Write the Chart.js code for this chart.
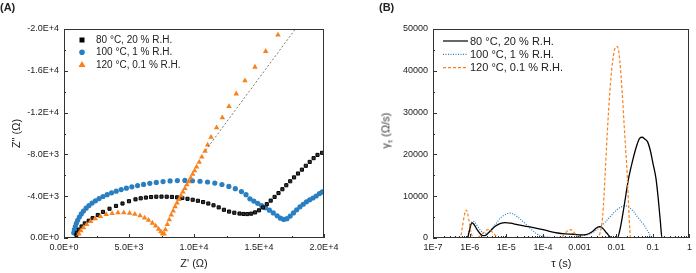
<!DOCTYPE html>
<html>
<head>
<meta charset="utf-8">
<script src="https://cdn.jsdelivr.net/npm/chart.js@4.4.1/dist/chart.umd.min.js"></script>
<style>
  body { margin: 0; background: #fff; font-family: "Liberation Sans", Arial, sans-serif; }
  #wrap { position: relative; width: 696px; height: 273px; }
  .panel { position: absolute; top: 0; width: 348px; height: 273px; }
  .tag { position: absolute; top: 1px; font-weight: bold; font-size: 11px; color: #222; }
  #gtitle { position: absolute; left: 347px; top: 123px; width: 80px; text-align: center;
            font-size: 11px; font-weight: normal; color: #333; transform: rotate(-90deg); white-space: nowrap; }
  #gtitle sub { font-size: 8px; }
</style>
</head>
<body>
<div id="wrap">
  <div class="panel" style="left:0"><canvas id="nyquist" width="348" height="273"></canvas></div>
  <div class="panel" style="left:348px"><canvas id="drt" width="348" height="273"></canvas></div>
  <div class="tag" style="left:0">(A)</div>
  <div class="tag" style="left:379px">(B)</div>
  <div id="gtitle">γ<sub>τ</sub> (Ω/s)</div>
</div>
<script>
// ---- (A) Nyquist data, Z' and -Z'' in ohm ----
const RE_80 = [950, 1000, 1150, 1350, 1600, 1900, 2200, 2600, 3000, 3500, 4000, 4500, 5000, 5500, 5900, 6300, 6700, 7100, 7500, 7900, 8300, 8700, 9100, 9500, 9900, 10300, 10700, 11100, 11500, 11900, 12300, 12700, 13100, 13500, 13800, 14100, 14400, 14700, 15000, 15300, 15600, 15900, 16200, 16500, 16800, 17100, 17400, 17700, 18000, 18300, 18600, 18900, 19200, 19500, 19850];
const IM_80 = [300, 500, 800, 1100, 1400, 1650, 1900, 2200, 2500, 2800, 3070, 3300, 3520, 3700, 3800, 3870, 3920, 3950, 3960, 3950, 3930, 3890, 3830, 3750, 3660, 3560, 3440, 3300, 3130, 2930, 2700, 2530, 2420, 2340, 2300, 2290, 2330, 2450, 2650, 2920, 3240, 3580, 3930, 4300, 4670, 5050, 5430, 5800, 6170, 6540, 6910, 7280, 7640, 7950, 8150];

const RE_100 = [750, 800, 870, 950, 1050, 1180, 1330, 1500, 1700, 1920, 2160, 2420, 2700, 3000, 3320, 3660, 4020, 4400, 4800, 5220, 5660, 6120, 6600, 7100, 7620, 8160, 8720, 9300, 9880, 10460, 11040, 11600, 12150, 12680, 13180, 13650, 14000, 14300, 14600, 14900, 15200, 15500, 15800, 16100, 16400, 16650, 16900, 17150, 17400, 17650, 17900, 18150, 18400, 18650, 18900, 19150, 19400, 19650, 19850, 19950];
const IM_100 = [500, 800, 1100, 1400, 1700, 2000, 2300, 2580, 2850, 3100, 3340, 3560, 3770, 3970, 4150, 4320, 4480, 4630, 4770, 4900, 5020, 5130, 5230, 5320, 5400, 5460, 5500, 5510, 5480, 5430, 5360, 5260, 5120, 4940, 4720, 4440, 4150, 3750, 3530, 3320, 3110, 2900, 2660, 2400, 2130, 1900, 1780, 1850, 2100, 2400, 2700, 2980, 3230, 3460, 3650, 3830, 4020, 4250, 4400, 4420];

const RE_120 = [1150, 1300, 1500, 1750, 2050, 2400, 2800, 3250, 3700, 4150, 4600, 5050, 5450, 5850, 6200, 6500, 6800, 7050, 7280, 7450, 7580, 7700, 7800, 7950, 8100, 8250, 8400, 8550, 8700, 8850, 9000, 9150, 9300, 9450, 9600, 9750, 9900, 10050, 10200, 10400, 10600, 10850, 11050, 11310, 11740, 12180, 12690, 13250, 13920, 14690, 15515, 16460];
const IM_120 = [400, 700, 1000, 1300, 1580, 1850, 2070, 2250, 2360, 2420, 2430, 2380, 2280, 2130, 1930, 1700, 1430, 1150, 850, 600, 420, 400, 800, 1300, 1750, 2200, 2600, 3000, 3350, 3700, 4050, 4400, 4750, 5100, 5400, 5750, 6100, 6450, 6800, 7250, 7750, 8300, 8900, 9640, 10550, 11510, 12600, 13800, 15050, 16360, 17865, 19430];

const FIT_RE = [10900, 17800];
const FIT_IM = [8400, 20000];

const RE_TICKS = [0, 5000, 10000, 15000, 20000];
const RE_TICK_LABELS = ['0.0E+0', '5.0E+3', '1.0E+4', '1.5E+4', '2.0E+4'];
const RE_MINOR = [2500, 7500, 12500, 17500];
const IM_TICKS = [0, 4000, 8000, 12000, 16000, 20000];
const IM_TICK_LABELS = ['0.0E+0', '-4.0E+3', '-8.0E+3', '-1.2E+4', '-1.6E+4', '-2.0E+4'];
const IM_MINOR = [2000, 6000, 10000, 14000, 18000];

// ---- (B) DRT data, tau in s, gamma in ohm/s ----
const TAU_80 = [1e-7, 8.0e-7, 9.0e-7, 1.0e-6, 1.15e-6, 1.3e-6, 1.6e-6, 2.0e-6, 2.3e-6, 2.8e-6, 3.5e-6, 5e-6, 7e-6, 9.5e-6, 1.3e-5, 2e-5, 3e-5, 4e-5, 6e-5, 1e-4, 1.5e-4, 2.5e-4, 4e-4, 7e-4, 1.1e-3, 1.5e-3, 2.2e-3, 3.0e-3, 3.5e-3, 4.2e-3, 5.5e-3, 7e-3, 8e-3, 1.07e-2, 1.3e-2, 1.6e-2, 2.15e-2, 2.8e-2, 3.6e-2, 4.4e-2, 5.1e-2, 6.0e-2, 7.2e-2, 8.5e-2, 0.1, 0.1216, 0.14, 0.16, 0.178, 1];
const G_80 = [0, 0, 300, 2000, 3600, 3300, 2000, 900, 550, 700, 1500, 2800, 3500, 3700, 3550, 3200, 2900, 2700, 2400, 2000, 1600, 1200, 1000, 900, 750, 800, 1500, 2500, 2700, 2400, 1200, 200, 0, 0, 2500, 7000, 14000, 18500, 22000, 23900, 24100, 23700, 23000, 21000, 18000, 14280, 9500, 4000, 0, 0];

const TAU_100 = [1e-7, 8.5e-7, 9.5e-7, 1.1e-6, 1.25e-6, 1.45e-6, 1.8e-6, 2.3e-6, 2.8e-6, 3.5e-6, 5e-6, 7e-6, 1.0e-5, 1.2e-5, 1.5e-5, 2e-5, 3e-5, 4.5e-5, 6.5e-5, 9e-5, 1.3e-4, 2e-4, 4e-4, 7e-4, 1.1e-3, 1.6e-3, 2.5e-3, 3.5e-3, 5e-3, 7e-3, 1e-2, 1.4e-2, 1.7e-2, 2.1e-2, 2.8e-2, 4e-2, 5.5e-2, 7e-2, 8.5e-2, 9.5e-2, 1];
const G_100 = [0, 0, 1500, 3500, 4000, 3500, 2300, 1300, 1100, 1600, 3200, 4800, 5700, 5950, 5800, 5100, 3800, 2300, 1100, 500, 250, 150, 150, 250, 500, 800, 1500, 2500, 3800, 5200, 6600, 7500, 7700, 7500, 6600, 4800, 3300, 1900, 600, 0, 0];

const TAU_120 = [1e-7, 5.5e-7, 6.3e-7, 7.2e-7, 8.1e-7, 9e-7, 1.05e-6, 1.2e-6, 1.4e-6, 1.8e-6, 2.4e-6, 3.2e-6, 4.2e-6, 5.5e-6, 6.5e-6, 3.0e-4, 3.8e-4, 4.8e-4, 5.5e-4, 6.5e-4, 8e-4, 9.5e-4, 3.0e-3, 3.5e-3, 3.9e-3, 4.3e-3, 4.9e-3, 5.7e-3, 6.7e-3, 7.8e-3, 9.2e-3, 1.08e-2, 1.25e-2, 1.45e-2, 1.7e-2, 2.0e-2, 2.2e-2, 2.35e-2, 2.45e-2, 1];
const G_120 = [0, 0, 2500, 5500, 6700, 5500, 2000, 300, 0, 300, 1300, 2000, 1400, 300, 0, 0, 800, 1800, 2000, 1700, 700, 0, 0, 800, 2500, 5500, 14000, 25000, 35000, 41500, 45300, 45800, 42500, 35000, 25000, 15000, 7000, 2000, 0, 0];

const TAU_TICKS = [1e-7, 1e-6, 1e-5, 1e-4, 1e-3, 1e-2, 1e-1, 1];
const TAU_TICK_LABELS = ['1E-7', '1E-6', '1E-5', '1E-4', '0.001', '0.01', '0.1', '1'];
const G_TICKS = [0, 10000, 20000, 30000, 40000, 50000];
const G_MINOR = [5000, 15000, 25000, 35000, 45000];

const BLACK = '#000000';
const BLUE = '#2a7fc1';
const ORANGE = '#f7821e';
const TEXT = '#222';

function pts(xs, ys) { return xs.map((x, i) => ({ x, y: ys[i] })); }

// frame around chart area + inward ticks on bottom/left
const frameTicks = {
  id: 'frameTicks',
  afterDraw(chart, args, opts) {
    const { ctx, chartArea: a } = chart;
    const xs = chart.scales.x, ys = chart.scales.y;
    ctx.save();
    ctx.strokeStyle = '#333';
    ctx.lineWidth = 1;
    ctx.strokeRect(Math.round(a.left) + 0.5, Math.round(a.top) + 0.5,
                   Math.round(a.width) - 1, Math.round(a.height) - 1);
    ctx.beginPath();
    const xt = (v, len) => {
      const px = Math.round(xs.getPixelForValue(v)) + 0.5;
      ctx.moveTo(px, a.bottom); ctx.lineTo(px, a.bottom - len);
    };
    const yt = (v, len) => {
      const py = Math.round(ys.getPixelForValue(v)) + 0.5;
      ctx.moveTo(a.left, py); ctx.lineTo(a.left + len, py);
    };
    xs.ticks.forEach(t => xt(t.value, 4));
    ys.ticks.forEach(t => yt(t.value, 4));
    (opts.xMinor || []).forEach(v => xt(v, 2));
    (opts.yMinor || []).forEach(v => yt(v, 2));
    ctx.stroke();
    ctx.restore();
  }
};

const tickFont = { family: '"Liberation Sans", Arial, sans-serif', size: 9 };
const titleFont = { family: '"Liberation Sans", Arial, sans-serif', size: 11 };

// ---------- (A) ----------
new Chart(document.getElementById('nyquist'), {
  type: 'scatter',
  data: {
    datasets: [
      { label: '120 °C, 0.1 % R.H.', data: pts(RE_120, IM_120), pointStyle: 'triangle', pointRadius: 3.2,
        backgroundColor: ORANGE, borderColor: ORANGE, borderWidth: 0, order: 1 },
      { label: 'fit', data: pts(FIT_RE, FIT_IM), showLine: true, pointRadius: 0, borderColor: '#777',
        borderWidth: 1, borderDash: [2, 2], order: 0 },
      { label: '80 °C, 20 % R.H.', data: pts(RE_80, IM_80), pointStyle: 'rect', pointRadius: 2.2,
        backgroundColor: '#333', borderColor: BLACK, borderWidth: 1, order: 2 },
      { label: '100 °C, 1 % R.H.', data: pts(RE_100, IM_100), pointStyle: 'circle', pointRadius: 2.6,
        backgroundColor: BLUE, borderColor: BLUE, borderWidth: 0, order: 3 },
    ]
  },
  options: {
    responsive: false,
    animation: false,
    layout: { padding: { top: 29, right: 24, left: 0, bottom: 0 } },
    plugins: {
      legend: { display: false },
      tooltip: { enabled: false },
      frameTicks: { xMinor: RE_MINOR, yMinor: IM_MINOR }
    },
    scales: {
      x: {
        type: 'linear', min: 0, max: 20000,
        grid: { display: false, drawTicks: false }, border: { display: false },
        afterBuildTicks: s => { s.ticks = RE_TICKS.map(v => ({ value: v })); },
        afterFit: s => { s.height = 35; },
        ticks: { font: tickFont, color: TEXT, padding: 4, maxRotation: 0,
                 callback: v => RE_TICK_LABELS[RE_TICKS.indexOf(v)] },
        title: { display: true, text: "Z' (Ω)", font: titleFont, color: TEXT, padding: { top: 0, bottom: 2 } }
      },
      y: {
        type: 'linear', min: 0, max: 20000,
        grid: { display: false, drawTicks: false }, border: { display: false },
        afterBuildTicks: s => { s.ticks = IM_TICKS.map(v => ({ value: v })); },
        afterFit: s => { s.width = 64; },
        ticks: { font: tickFont, color: TEXT, padding: 5,
                 callback: v => IM_TICK_LABELS[IM_TICKS.indexOf(v)] },
        title: { display: true, text: 'Z" (Ω)', font: titleFont, color: TEXT, padding: { top: 10, bottom: 0 } }
      }
    }
  },
  plugins: [frameTicks, {
    id: 'nyqLegend',
    afterDraw(chart) {
      const ctx = chart.ctx;
      const rows = [
        { text: '80 °C, 20 % R.H.', color: BLACK, shape: 'rect' },
        { text: '100 °C, 1 % R.H.', color: BLUE, shape: 'circle' },
        { text: '120 °C, 0.1 % R.H.', color: ORANGE, shape: 'triangle' },
      ];
      ctx.save();
      ctx.font = '10px "Liberation Sans", Arial, sans-serif';
      ctx.textBaseline = 'middle';
      rows.forEach((r, i) => {
        const x = 82, y = 40 + i * 12.2;
        ctx.fillStyle = r.color;
        ctx.beginPath();
        if (r.shape === 'rect') ctx.rect(x - 2.5, y - 2.5, 5, 5);
        else if (r.shape === 'circle') ctx.arc(x, y, 2.8, 0, Math.PI * 2);
        else { ctx.moveTo(x, y - 3.5); ctx.lineTo(x + 3.5, y + 2.5); ctx.lineTo(x - 3.5, y + 2.5); ctx.closePath(); }
        ctx.fill();
        ctx.fillStyle = TEXT;
        ctx.fillText(r.text, 96, y + 0.5);
      });
      ctx.restore();
    }
  }]
});

// ---------- (B) ----------
new Chart(document.getElementById('drt'), {
  type: 'line',
  data: {
    datasets: [
      { label: '80 °C, 20 % R.H.', data: pts(TAU_80, G_80), borderColor: BLACK, borderWidth: 1.3,
        pointRadius: 0, cubicInterpolationMode: 'monotone', order: 1 },
      { label: '100 °C, 1 % R.H.', data: pts(TAU_100, G_100), borderColor: BLUE, borderWidth: 1.2,
        borderDash: [1, 1.5], pointRadius: 0, cubicInterpolationMode: 'monotone', order: 2 },
      { label: '120 °C, 0.1 % R.H.', data: pts(TAU_120, G_120), borderColor: ORANGE, borderWidth: 1.2,
        borderDash: [3, 2], pointRadius: 0, cubicInterpolationMode: 'monotone', order: 0 },
    ]
  },
  options: {
    responsive: false,
    animation: false,
    layout: { padding: { top: 29, right: 4, left: 0, bottom: 0 } },
    plugins: {
      legend: { display: false },
      tooltip: { enabled: false },
      frameTicks: { yMinor: G_MINOR, xMinor: TAU_TICKS.slice(0, -1).flatMap(d => [2, 3, 4, 5, 6, 7, 8, 9].map(k => d * k)) }
    },
    scales: {
      x: {
        type: 'logarithmic', min: 1e-7, max: 1,
        grid: { display: false, drawTicks: false }, border: { display: false },
        afterBuildTicks: s => { s.ticks = TAU_TICKS.map(v => ({ value: v })); },
        afterFit: s => { s.height = 35; },
        ticks: { font: tickFont, color: TEXT, padding: 4, maxRotation: 0, autoSkip: false,
                 callback: v => TAU_TICK_LABELS[TAU_TICKS.findIndex(t => Math.abs(Math.log10(t) - Math.log10(v)) < 1e-6)] },
        title: { display: true, text: 'τ (s)', font: titleFont, color: TEXT, padding: { top: 0, bottom: 2 } }
      },
      y: {
        type: 'linear', min: 0, max: 50000,
        grid: { display: false, drawTicks: false }, border: { display: false },
        afterBuildTicks: s => { s.ticks = G_TICKS.map(v => ({ value: v })); },
        afterFit: s => { s.width = 85; },
        ticks: { font: tickFont, color: TEXT, padding: 5, callback: v => String(v) }
      }
    }
  },
  plugins: [frameTicks, {
    id: 'drtLegend',
    afterDraw(chart) {
      const ctx = chart.ctx;
      const rows = [
        { text: '80 °C, 20 % R.H.', color: BLACK, dash: [] },
        { text: '100 °C, 1 % R.H.', color: BLUE, dash: [1, 1.5] },
        { text: '120 °C, 0.1 % R.H.', color: ORANGE, dash: [3, 2] },
      ];
      ctx.save();
      ctx.font = '11px "Liberation Sans", Arial, sans-serif';
      ctx.textBaseline = 'middle';
      rows.forEach((r, i) => {
        const y = 41 + i * 13.3;
        ctx.strokeStyle = r.color;
        ctx.lineWidth = 1.2;
        ctx.setLineDash(r.dash);
        ctx.beginPath();
        ctx.moveTo(95, y); ctx.lineTo(120, y);
        ctx.stroke();
        ctx.fillStyle = TEXT;
        ctx.fillText(r.text, 122, y + 0.5);
      });
      ctx.restore();
    }
  }]
});
</script>
</body>
</html>
